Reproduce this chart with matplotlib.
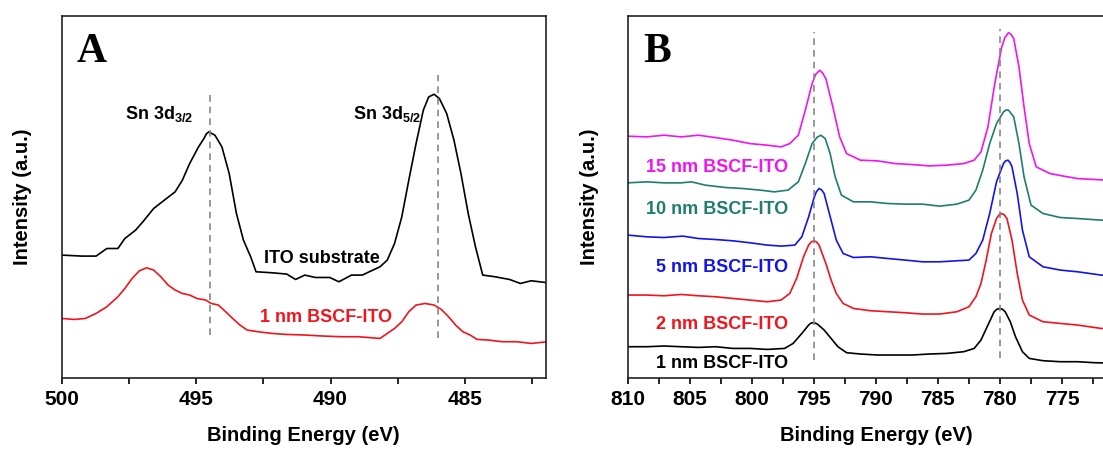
import matplotlib
matplotlib.use("Agg")
import matplotlib.pyplot as plt
from matplotlib.ticker import MultipleLocator

plt.rcParams['font.family'] = ['Liberation Sans', 'DejaVu Sans']
plt.rcParams['font.weight'] = 'bold'
plt.rcParams['mathtext.fontset'] = 'custom'
plt.rcParams['mathtext.bf'] = 'Liberation Sans:bold'
plt.rcParams['mathtext.rm'] = 'Liberation Sans:bold'
plt.rcParams['mathtext.default'] = 'bf'

# ---- panel A: Sn 3d region (binding energy eV, intensity a.u.)
ito_E = [500.0, 499.25, 498.72, 498.32, 497.91, 497.65, 497.25, 496.98, 496.58, 496.18,
         495.78, 495.51, 495.24, 494.91, 494.71, 494.62, 494.53, 494.30, 494.04, 493.77, 493.50,
         493.24, 492.97, 492.77, 492.17, 491.63, 491.30, 490.96, 490.56, 490.03, 489.69,
         489.22, 488.82, 488.56, 488.16, 487.89, 487.62, 487.35, 487.09, 486.82, 486.55,
         486.35, 486.15, 485.95, 485.68, 485.41, 485.15, 484.88, 484.61, 484.34, 483.88,
         483.34, 482.94, 482.54, 481.91]
ito_I = [122.7, 121.7, 121.7, 129.3, 129.3, 139.3, 147.7, 156, 169.3, 177.7,
         186, 197.7, 214.3, 231, 239.3, 244, 246, 242.7, 231, 204.3, 164.3,
         137.7, 121, 106, 105, 103.7, 98.3, 102.7, 100.3, 100.3, 96,
         102.7, 102.7, 106, 111, 117.7, 134.3, 161, 197.7, 234.3, 267.7,
         281, 283.7, 279.3, 264.3, 237.7, 204.3, 164.3, 131, 102.7, 101,
         98.3, 94.3, 97, 95]

bscf1_E = [500.0, 499.52, 499.12, 498.72, 498.32, 497.91, 497.65, 497.38, 497.11, 496.84,
           496.58, 496.31, 496.04, 495.78, 495.51, 495.24, 494.97, 494.64, 494.44, 494.17,
           493.90, 493.64, 493.37, 493.10, 492.70, 492.17, 491.63, 490.96, 490.29, 489.63,
           488.96, 488.16, 487.89, 487.62, 487.35, 487.09, 486.82, 486.48, 486.15, 485.88,
           485.61, 485.35, 485.08, 484.81, 484.55, 484.14, 483.61, 483.07, 482.54, 481.91]
bscf1_I = [59.3, 58.3, 59.3, 64.3, 71, 81, 89.3, 99.3, 107, 110,
           107.7, 101, 92.7, 87.7, 84.3, 82.7, 79.3, 77.7, 74.3, 72.7,
           66, 59.3, 52.7, 47.7, 46, 44.3, 43.3, 42.7, 41.7, 41,
           41, 39.3, 44.3, 49.3, 56, 66, 72.7, 74.3, 72.7, 68.3,
           61, 52.7, 46, 42.7, 38.3, 37.7, 36, 36, 34.3, 36]

# ---- panel B: Ba 3d region for different BSCF thicknesses
b1_E = [810, 808.47, 807.08, 805.69, 804.31, 802.92, 801.53, 800.14, 798.75, 797.36,
        796.67, 795.97, 795.42, 795.25, 795.06, 794.9, 794.72, 794.17, 793.61, 793.06, 792.36, 791.25,
        789.86, 788.47, 787.08, 785.69, 784.31, 782.92, 782.08, 781.53, 780.97, 780.47,
        780.25, 780.0, 779.8, 779.58, 779.17, 778.75, 778.19, 777.64, 776.53, 775.14, 773.75,
        772.36, 770.0]
b1_I = [31, 31, 31.7, 31, 30.3, 31, 29.3, 29.3, 28.3, 29.3,
        34.3, 44.3, 52.7, 54.5, 55, 54.7, 53.7, 47.7, 39.3, 31, 25, 23.7,
        22.7, 22.7, 22.7, 23.7, 24.3, 26, 29.3, 37.7, 52.7, 66,
        68.5, 69.3, 68.5, 66, 56, 41, 26, 19.3, 17, 16, 16,
        15, 14.3]

b2_E = [810, 808.47, 807.08, 805.69, 804.31, 802.92, 801.53, 800.14, 798.75, 797.64,
        796.94, 796.39, 795.83, 795.42, 795.2, 795.0, 794.8, 794.58, 794.03, 793.61, 793.19, 792.64,
        791.81, 790.42, 789.03, 787.64, 786.25, 784.86, 783.47, 782.5, 781.94, 781.53,
        781.11, 780.69, 780.28, 780.07, 779.86, 779.65, 779.44, 779.03, 778.61, 778.19, 777.64,
        776.53, 775.14, 773.75, 771.86, 770.0]
b2_I = [82.7, 82.7, 82, 83.3, 82, 81, 79.3, 77.7, 76, 77.7,
        84.3, 99.3, 121, 132.7, 136, 137, 136, 132.7, 114.3, 97.7, 84.3, 74.3,
        69.3, 67, 66, 65, 63.7, 63.7, 66, 71, 81, 94.3,
        117.7, 144.3, 159.3, 163, 164.3, 163, 159.3, 137.7, 104.3, 77.7, 62.7,
        56, 54.3, 52.7, 49.3, 49]

b5_E = [810, 808.47, 807.08, 805.56, 804.31, 802.92, 801.53, 800.14, 798.75, 797.64,
        796.53, 795.97, 795.42, 795.0, 794.8, 794.58, 794.38, 794.17, 793.75, 793.19, 792.64, 791.81,
        790.42, 789.03, 787.64, 786.25, 784.86, 783.47, 782.5, 781.94, 781.39, 780.83,
        780.28, 779.72, 779.55, 779.36, 779.2, 779.03, 778.61, 778.19, 777.64, 776.53, 775.14,
        773.75, 771.86, 770.0]
b5_I = [142.7, 141, 140.3, 141.7, 139.3, 138.3, 137, 135, 132.7, 131.7,
        132.7, 141, 161, 179.3, 186, 189.3, 188, 184.3, 164.3, 137.7, 124.3, 120.3,
        121, 119.3, 117.7, 116, 116, 117, 117.7, 124.3, 137.7, 164.3,
        196, 214.3, 217, 217.7, 215.5, 211, 184.3, 147.7, 121, 111, 107.7,
        106, 102.7, 102]

b10_E = [810, 808.47, 807.08, 805.69, 804.86, 803.75, 802.08, 800.69, 799.31, 798.19,
         797.08, 796.25, 795.69, 795.14, 794.75, 794.44, 794.08, 793.69, 793.28, 792.78, 791.81,
         790.42, 789.03, 787.64, 786.25, 784.86, 783.47, 782.5, 781.94, 781.39, 780.83,
         780.28, 779.72, 779.5, 779.31, 778.89, 778.47, 778.06, 777.5, 776.53, 775.14, 773.75,
         771.86, 770.0]
b10_I = [195, 196, 195, 195, 196, 192.7, 190.3, 189.3, 187.7, 186,
         187.7, 196, 214.3, 234.3, 240.5, 242.7, 239.3, 224.3, 201, 182.7, 176,
         176, 174.3, 173.7, 173.7, 171.7, 173.7, 177.7, 187.7, 207.7, 234.3,
         254.3, 266, 268, 267.7, 261, 234.3, 201, 172.7, 164.3, 160.3, 159.3,
         157.7, 157]

b15_E = [810, 808.47, 807.08, 805.69, 804.31, 802.92, 801.53, 800.14, 798.75, 797.64,
         796.94, 796.25, 795.69, 795.14, 794.85, 794.53, 794.3, 794.03, 793.47, 792.92, 792.36, 791.25,
         789.86, 788.47, 787.08, 785.69, 784.31, 782.92, 782.08, 781.53, 780.97, 780.42,
         779.86, 779.6, 779.31, 779.1, 778.89, 778.47, 778.06, 777.64, 777.08, 775.97, 774.86,
         773.75, 771.86, 770.0]
b15_I = [241.7, 241, 242.7, 241, 242.7, 240.3, 237.7, 234.3, 232.7, 231,
         234.3, 242.7, 267.7, 294.3, 303.5, 307.7, 305, 299.3, 271, 241, 224.3, 217.7,
         217, 214.3, 213.3, 212, 212.7, 214.3, 217.7, 226, 251, 294.3,
         331, 340.5, 345.3, 343.5, 339.3, 311, 271, 234.3, 211, 204.3, 201.7,
         199.3, 198, 197.5]

b_labels = ['1 nm BSCF-ITO', '2 nm BSCF-ITO', '5 nm BSCF-ITO', '10 nm BSCF-ITO', '15 nm BSCF-ITO']
b_colors = ['black', '#f0141e', '#1414e6', '#1f7d6e', '#f014f0']
b_label_y = [9.4, 48.4, 106, 163.4, 206]

a_ticks = [500, 495, 490, 485]
b_ticks = [810, 805, 800, 795, 790, 785, 780, 775]


def style_axes(ax, xlim, ticks):
    ax.set_xlim(*xlim)
    ax.set_ylim(0, 362)
    ax.set_yticks([])
    ax.set_xticks(ticks)
    ax.set_xticklabels([str(t) for t in ticks], fontweight='bold')
    ax.xaxis.set_minor_locator(MultipleLocator(2.5))
    ax.tick_params(axis='x', which='both', direction='out', length=4, width=1.2,
                   labelsize=15, pad=5, top=False)
    for sp in ax.spines.values():
        sp.set_linewidth(1.2)
        sp.set_color('#222222')
    ax.set_xlabel('Binding Energy (eV)', fontsize=14.5, fontweight='bold', labelpad=12)
    ax.set_ylabel('Intensity (a.u.)', fontsize=14.5, fontweight='bold', labelpad=21)


fig = plt.figure(figsize=(11.03, 4.49), dpi=100)

# panel A
axA = fig.add_axes([0.0559, 0.1588, 0.4388, 0.8056])
axA.plot(ito_E, ito_I, color='black', lw=1.2)
axA.plot(bscf1_E, bscf1_I, color='#f0141e', lw=1.2)
axA.plot([494.5, 494.5], [42.7, 284.7], color='#888888', lw=1.2, ls=(0, (4, 3)))
axA.plot([486.0, 486.0], [39.7, 302.7], color='#888888', lw=1.2, ls=(0, (4, 3)))
style_axes(axA, (500, 482), a_ticks)
axA.text(497.65, 259, r'Sn 3d$_{3/2}$', fontsize=13, fontweight='bold', ha='left', va='baseline')
axA.text(489.18, 259, r'Sn 3d$_{5/2}$', fontsize=13, fontweight='bold', ha='left', va='baseline')
axA.text(488.17, 115, 'ITO substrate', fontsize=13, fontweight='bold', ha='right', va='baseline')
axA.text(487.7, 56, '1 nm BSCF-ITO', fontsize=13, fontweight='bold', color='#f0141e',
         ha='right', va='baseline')
axA.text(0.031, 0.873, 'A', transform=axA.transAxes, fontsize=30, fontweight='bold',
         family='Liberation Serif', va='baseline')

# panel B (its right edge runs past the picture, as in the original)
axB = fig.add_axes([0.5691, 0.1588, 0.45, 0.8056])
curves = [(b1_E, b1_I), (b2_E, b2_I), (b5_E, b5_I), (b10_E, b10_I), (b15_E, b15_I)]
for (e, i), c in zip(curves, b_colors):
    axB.plot(e, i, color=c, lw=1.2)
axB.plot([795.0, 795.0], [17.7, 345.7], color='#888888', lw=1.2, ls=(0, (4, 3)))
axB.plot([780.0, 780.0], [19.3, 348.7], color='#888888', lw=1.2, ls=(0, (4, 3)))
style_axes(axB, (810, 770), b_ticks)
for lab, c, y in zip(b_labels, b_colors, b_label_y):
    axB.text(797.1, y, lab, fontsize=13, fontweight='bold', color=c, ha='right', va='baseline')
axB.text(0.031, 0.873, 'B', transform=axB.transAxes, fontsize=30, fontweight='bold',
         family='Liberation Serif', va='baseline')

fig.savefig('out.png', dpi=100, facecolor='white')
